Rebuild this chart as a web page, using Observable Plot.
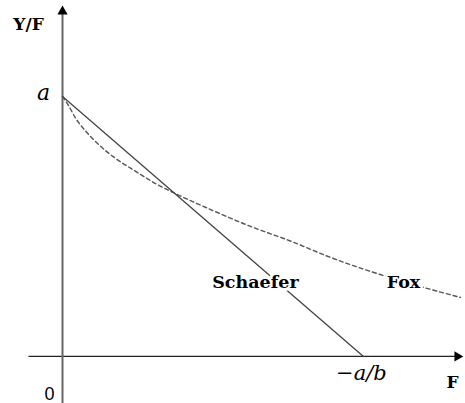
<!DOCTYPE html>
<html>
<head>
<meta charset="utf-8">
<script src="https://cdn.jsdelivr.net/npm/d3@7"></script>
<script src="https://cdn.jsdelivr.net/npm/@observablehq/plot@0.6"></script>
<style>
  html, body { margin: 0; padding: 0; background: #fff; }
  #chart svg { display: block; }
</style>
</head>
<body>
<div id="chart"></div>
<script>
// Model parameters (schematic): intercept a, slope b (so that -a/b = 1)
const a = 1;
const b = -1;

// Schaefer line: Y/F = a + bF
const schaeferF = [0, -a / b];
const schaeferYF = [a, 0];

// Fox curve
const foxF  = [0, 0.020, 0.043, 0.076, 0.120, 0.176, 0.243, 0.309, 0.392, 0.492, 0.625, 0.757, 0.890, 1.056, 1.189, 1.322];
const foxYF = [1, 0.965, 0.917, 0.868, 0.815, 0.762, 0.712, 0.665, 0.617, 0.565, 0.500, 0.444, 0.381, 0.315, 0.269, 0.227];

// Text labels
const axisLabels = ["Y/F", "F", "0"];
const tickLabels = ["a", "\u2212a/b"];
const seriesNames = ["Schaefer", "Fox"];

const schaefer = schaeferF.map((F, i) => ({F, YF: schaeferYF[i]}));
const fox = foxF.map((F, i) => ({F, YF: foxYF[i]}));

const xDom = [-0.206, 1.339];
const yDom = [-0.181, 1.369];

const bold = {fontFamily: "DejaVu Serif", fontWeight: "bold", fill: "black"};

const chart = Plot.plot({
  width: 465,
  height: 403,
  margin: 0,
  x: {domain: xDom, axis: null},
  y: {domain: yDom, axis: null},
  marks: [
    // axes
    Plot.link([{x1: -0.113, x2: 1.312, y: 0}], {x1: "x1", x2: "x2", y1: "y", y2: "y", stroke: "#222", strokeWidth: 1.3}),
    Plot.link([{x: 0, y1: yDom[0], y2: 1.327}], {x1: "x", x2: "x", y1: "y1", y2: "y2", stroke: "#666", strokeWidth: 2}),
    Plot.dot([{x: 0, y: 1.327}], {x: "x", y: "y", symbol: "triangle", r: 3.8, fill: "black", stroke: "none"}),
    Plot.dot([{x: 1.312, y: 0}], {x: "x", y: "y", symbol: "triangle", r: 3.8, fill: "black", stroke: "none", rotate: 90}),
    // series
    Plot.line(fox, {x: "F", y: "YF", curve: "monotone-x", stroke: "#555", strokeWidth: 1.4, strokeDasharray: "4,3"}),
    Plot.line(schaefer, {x: "F", y: "YF", stroke: "#444", strokeWidth: 1.3}),
    // series labels with white halo
    Plot.text([seriesNames[0]], {x: 0.641, y: 0.265, text: d => d, fontSize: 17.5, lineAnchor: "bottom", textAnchor: "middle", stroke: "white", strokeWidth: 6, ...bold}),
    Plot.text([seriesNames[1]], {x: 1.133, y: 0.262, text: d => d, fontSize: 17.5, lineAnchor: "bottom", textAnchor: "middle", stroke: "white", strokeWidth: 5, ...bold}),
    // axis labels
    Plot.text([axisLabels[0]], {x: -0.113, y: 1.254, text: d => d, fontSize: 17, lineAnchor: "bottom", textAnchor: "middle", ...bold}),
    Plot.text([axisLabels[1]], {x: 1.296, y: -0.123, text: d => d, fontSize: 17, lineAnchor: "bottom", textAnchor: "middle", ...bold}),
    Plot.text([axisLabels[2]], {x: -0.043, y: -0.169, text: d => d, fontSize: 18, lineAnchor: "bottom", textAnchor: "middle", fontFamily: "Liberation Sans", fill: "black"}),
    // tick labels
    Plot.text([tickLabels[0]], {x: -0.063, y: 0.985, text: d => d, fontSize: 22, lineAnchor: "bottom", textAnchor: "middle", fontFamily: "DejaVu Serif", fontStyle: "italic", fill: "black"}),
    Plot.text([tickLabels[1]], {x: 0.993, y: -0.092, text: d => d, fontSize: 21, lineAnchor: "bottom", textAnchor: "middle", fontFamily: "DejaVu Serif", fontStyle: "italic", fill: "black"})
  ]
});
document.getElementById("chart").appendChild(chart);
</script>
</body>
</html>
